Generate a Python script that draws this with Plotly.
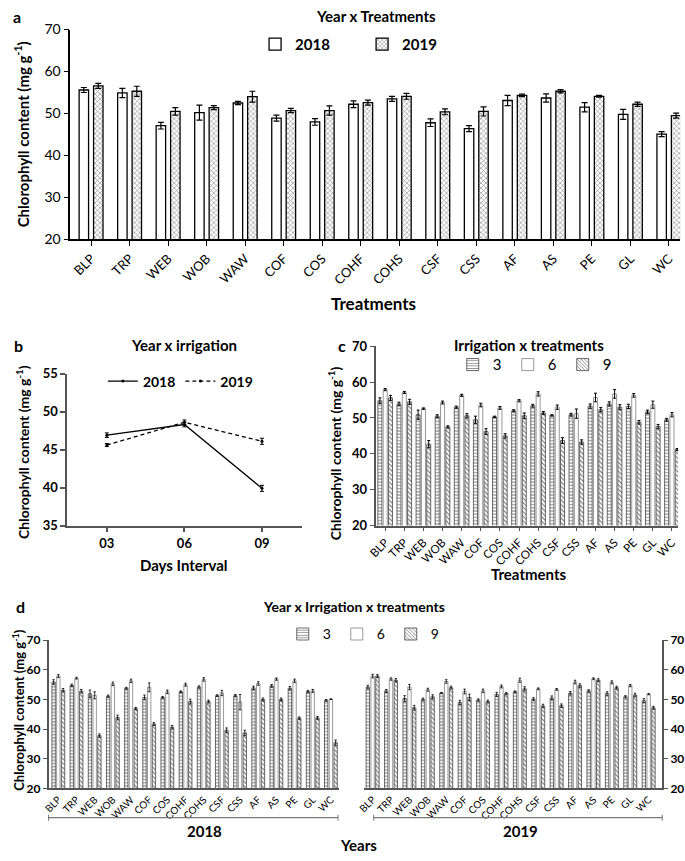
import plotly.graph_objects as go

treatments = ["BLP", "TRP", "WEB", "WOB", "WAW", "COF", "COS", "COHF", "COHS",
              "CSF", "CSS", "AF", "AS", "PE", "GL", "WC"]

# Panel a: Year x Treatments
a_2018 = [55.6, 54.9, 47.1, 50.2, 52.5, 48.9, 48.0, 52.2, 53.5, 47.8, 46.4, 53.1, 53.7, 51.5, 49.8, 45.1]
a_2018_err = [0.6, 1.1, 0.8, 1.8, 0.4, 0.7, 0.8, 0.8, 0.6, 0.9, 0.7, 1.2, 1.0, 1.1, 1.2, 0.6]
a_2019 = [56.6, 55.3, 50.5, 51.4, 54.0, 50.7, 50.7, 52.6, 54.1, 50.4, 50.5, 54.3, 55.3, 54.1, 52.2, 49.5]
a_2019_err = [0.6, 1.2, 0.9, 0.5, 1.3, 0.5, 1.1, 0.6, 0.7, 0.7, 1.1, 0.3, 0.4, 0.2, 0.5, 0.6]

# Panel b: Year x irrigation
days = ["03", "06", "09"]
b_2018 = [46.9, 48.3, 39.9]
b_2018_err = [0.3, 0.3, 0.4]
b_2019 = [45.6, 48.6, 46.1]
b_2019_err = [0.2, 0.3, 0.4]

# Panel c: Irrigation x treatments
c_3 = [54.8, 53.9, 50.9, 50.5, 53.0, 49.5, 50.3, 52.0, 53.4, 50.7, 50.9, 53.3, 53.9, 53.2, 51.7, 49.5]
c_3_err = [0.8, 0.5, 1.3, 0.4, 0.3, 1.0, 0.2, 0.3, 0.4, 0.2, 0.4, 0.6, 0.6, 0.6, 0.5, 0.4]
c_6 = [57.9, 57.1, 52.6, 54.3, 56.3, 53.6, 52.8, 54.8, 56.7, 53.0, 51.2, 55.7, 56.7, 56.3, 53.7, 50.9]
c_6_err = [0.3, 0.3, 0.2, 0.4, 0.3, 0.5, 0.4, 0.3, 0.6, 0.6, 1.3, 1.2, 1.2, 0.5, 1.0, 0.6]
c_9 = [55.6, 54.5, 42.7, 47.5, 50.6, 46.2, 45.0, 50.6, 51.4, 43.7, 43.3, 52.3, 53.0, 48.8, 47.6, 41.2]
c_9_err = [0.7, 0.7, 1.0, 0.3, 0.6, 0.8, 0.6, 0.8, 0.4, 0.8, 0.6, 0.6, 0.7, 0.5, 0.6, 0.3]

# Panel d: Year x Irrigation x treatments
d18_3 = [55.9, 54.8, 51.9, 51.1, 53.8, 50.7, 50.7, 52.6, 54.2, 51.3, 51.3, 53.9, 54.6, 53.8, 52.7, 49.7]
d18_3_err = [0.8, 0.4, 1.3, 0.4, 0.3, 0.8, 0.3, 0.3, 0.4, 0.3, 0.4, 0.6, 0.5, 0.6, 0.4, 0.3]
d18_6 = [57.9, 57.2, 51.4, 55.3, 56.3, 54.1, 52.6, 55.0, 56.8, 52.2, 49.1, 55.4, 56.9, 56.3, 52.9, 50.1]
d18_6_err = [0.5, 0.3, 1.2, 0.6, 0.6, 1.5, 0.6, 0.5, 0.6, 0.9, 2.6, 0.6, 0.4, 0.6, 0.5, 0.1]
d18_9 = [53.1, 52.8, 37.8, 43.9, 46.9, 41.7, 40.6, 49.3, 49.3, 39.6, 38.7, 50.0, 50.0, 43.7, 43.8, 35.4]
d18_9_err = [0.6, 0.6, 0.6, 0.8, 0.4, 0.5, 0.6, 0.8, 0.5, 0.8, 0.9, 0.5, 0.5, 0.4, 0.5, 0.9]
d19_3 = [54.2, 52.9, 50.3, 50.0, 52.2, 49.0, 49.8, 51.7, 52.6, 50.1, 50.5, 52.1, 52.9, 52.0, 50.9, 49.6]
d19_3_err = [0.6, 0.5, 1.0, 0.5, 0.2, 0.7, 0.4, 0.7, 0.3, 0.5, 0.7, 0.6, 0.4, 0.6, 0.4, 0.7]
d19_6 = [57.9, 56.9, 54.2, 53.3, 56.1, 52.7, 52.9, 54.4, 56.5, 53.6, 53.4, 55.9, 57.0, 55.8, 54.7, 51.8]
d19_6_err = [0.6, 0.4, 0.9, 0.5, 0.6, 0.8, 0.6, 0.5, 0.7, 0.3, 0.3, 0.6, 0.3, 0.5, 0.4, 0.2]
d19_9 = [57.9, 56.5, 47.2, 50.9, 54.0, 50.7, 49.3, 52.0, 53.6, 47.8, 47.9, 54.7, 56.5, 54.0, 51.5, 47.2]
d19_9_err = [0.5, 0.6, 0.8, 0.7, 0.5, 1.1, 0.5, 0.4, 0.7, 0.6, 0.6, 0.6, 0.5, 0.5, 0.6, 0.5]

W, H = 685, 861
FONT = "Lato"
YT = "Chlorophyll content (mg g<sup>-1</sup>)"


def px(x):
    return x / W


def py(y):
    return 1 - y / H


fig = go.Figure()

# ---------- panel a ----------
fig.add_trace(go.Bar(
    x=treatments, y=a_2018, name="2018", xaxis="x", yaxis="y",
    width=0.245, offset=-0.31,
    marker=dict(color="white", line=dict(color="black", width=1.3)),
    error_y=dict(type="data", array=a_2018_err, color="black", thickness=1.2, width=3),
    legend="legend"))
fig.add_trace(go.Bar(
    x=treatments, y=a_2019, name="2019", xaxis="x", yaxis="y",
    width=0.245, offset=0.065,
    marker=dict(color="white", line=dict(color="black", width=1.3),
                pattern=dict(shape="x", fgcolor="#222", bgcolor="white", size=3.5, solidity=0.35)),
    error_y=dict(type="data", array=a_2019_err, color="black", thickness=1.2, width=3),
    legend="legend"))

# ---------- panel b ----------
fig.add_trace(go.Scatter(
    x=days, y=b_2018, name="2018", xaxis="x2", yaxis="y2", mode="lines+markers",
    line=dict(color="black", width=1.3), marker=dict(color="black", size=3),
    error_y=dict(type="data", array=b_2018_err, color="black", thickness=1, width=2),
    legend="legend2"))
fig.add_trace(go.Scatter(
    x=days, y=b_2019, name="2019", xaxis="x2", yaxis="y2", mode="lines+markers",
    line=dict(color="black", width=1.3, dash="4px,3px"), marker=dict(color="black", size=3),
    error_y=dict(type="data", array=b_2019_err, color="black", thickness=1, width=2),
    legend="legend2"))

# bar styles for 3/6/9
styles = {
    "3": dict(color="white", line=dict(color="#444", width=0.8),
              pattern=dict(shape="-", fgcolor="black", bgcolor="white", size=3.2, solidity=0.3)),
    "6": dict(color="white", line=dict(color="#999", width=1.0)),
    "9": dict(color="white", line=dict(color="#444", width=0.8),
              pattern=dict(shape="\\", fgcolor="black", bgcolor="white", size=3.2, solidity=0.35)),
}

# ---------- panel c ----------
c_offsets = {"3": -0.385, "6": -0.105, "9": 0.17}
for key, vals, errs in [("3", c_3, c_3_err), ("6", c_6, c_6_err), ("9", c_9, c_9_err)]:
    fig.add_trace(go.Bar(
        x=treatments, y=vals, name=key, xaxis="x3", yaxis="y3",
        width=0.21, offset=c_offsets[key], marker=styles[key],
        error_y=dict(type="data", array=errs, color="black", thickness=1, width=1.5),
        legend="legend3"))

# ---------- panel d ----------
d_offsets = {"3": -0.3525, "6": -0.0925, "9": 0.1675}
for key, vals, errs in [("3", d18_3, d18_3_err), ("6", d18_6, d18_6_err), ("9", d18_9, d18_9_err)]:
    fig.add_trace(go.Bar(
        x=treatments, y=vals, name=key, xaxis="x4", yaxis="y4",
        width=0.185, offset=d_offsets[key], marker=styles[key],
        error_y=dict(type="data", array=errs, color="black", thickness=0.8, width=1.2),
        legend="legend4"))
for key, vals, errs in [("3", d19_3, d19_3_err), ("6", d19_6, d19_6_err), ("9", d19_9, d19_9_err)]:
    fig.add_trace(go.Bar(
        x=treatments, y=vals, name=key, xaxis="x5", yaxis="y5", showlegend=False,
        width=0.185, offset=d_offsets[key], marker=styles[key],
        error_y=dict(type="data", array=errs, color="black", thickness=0.8, width=1.2)))

axis_common = dict(showgrid=False, zeroline=False, ticks="outside", showline=True)

layout = dict(
    width=W, height=H, margin=dict(l=0, r=0, t=0, b=0),
    paper_bgcolor="white", plot_bgcolor="white",
    barmode="overlay",
    font=dict(family=FONT, color="black"),
    # panel a
    xaxis=dict(domain=[px(63), px(680)], anchor="y", range=[-0.54, 15.29],
               linecolor="black", linewidth=1.5, ticklen=5, tickcolor="black", tickwidth=1.3,
               tickangle=-45, tickfont=dict(size=13), **axis_common),
    yaxis=dict(domain=[py(235), py(21)], anchor="x", range=[20, 70], tickvals=[20, 30, 40, 50, 60, 70],
               linecolor="black", linewidth=1.5, ticklen=5, tickcolor="black", tickwidth=1.3,
               tickfont=dict(size=14), **axis_common),
    # panel b
    xaxis2=dict(domain=[px(60), px(297)], anchor="y2", range=[-0.51, 2.51],
                linecolor="#555", linewidth=1.8, ticklen=5, tickcolor="#555", tickwidth=1.5,
                tickfont=dict(size=13, weight="bold"), **axis_common),
    yaxis2=dict(domain=[py(527), py(372)], anchor="x2", range=[35, 55], tickvals=[35, 40, 45, 50, 55],
                linecolor="#555", linewidth=1.8, ticklen=5, tickcolor="#555", tickwidth=1.5,
                tickfont=dict(size=13, weight="bold"), **axis_common),
    # panel c
    xaxis3=dict(domain=[px(372), px(678)], anchor="y3", range=[-0.5, 15.32],
                linecolor="#555", linewidth=1.8, ticklen=4, tickcolor="#555", tickwidth=1,
                tickangle=-45, tickfont=dict(size=11.5), **axis_common),
    yaxis3=dict(domain=[py(527), py(344)], anchor="x3", range=[20, 70], tickvals=[20, 30, 40, 50, 60, 70],
                linecolor="#555", linewidth=1.8, ticklen=4, tickcolor="#555", tickwidth=1.2,
                tickfont=dict(size=13, weight="bold"), **axis_common),
    # panel d left
    xaxis4=dict(domain=[px(41), px(335)], anchor="y4", range=[-0.54, 15.45],
                linecolor="#555", linewidth=1.5, ticks="", showgrid=False, zeroline=False, showline=True,
                tickangle=-45, tickfont=dict(size=10)),
    yaxis4=dict(domain=[py(795), py(644)], anchor="x4", range=[20, 70], tickvals=[20, 30, 40, 50, 60, 70],
                linecolor="#555", linewidth=1.5, ticklen=4, tickcolor="#555", tickwidth=1,
                tickfont=dict(size=12, weight="bold"), **axis_common),
    # panel d right
    xaxis5=dict(domain=[px(360), px(662)], anchor="y5", range=[-0.48, 15.74],
                linecolor="#555", linewidth=1.5, ticks="", showgrid=False, zeroline=False, showline=True,
                tickangle=-45, tickfont=dict(size=10)),
    yaxis5=dict(domain=[py(795), py(644)], anchor="x5", side="right", range=[20, 70],
                tickvals=[20, 30, 40, 50, 60, 70],
                linecolor="#555", linewidth=1.5, ticklen=4, tickcolor="#555", tickwidth=1,
                tickfont=dict(size=12, weight="bold"), **axis_common),
    legend=dict(orientation="h", x=px(250), y=py(36), xanchor="left", yanchor="middle",
                font=dict(size=15, weight="bold"), bgcolor="rgba(0,0,0,0)", entrywidth=62,
                entrywidthmode="pixels", itemwidth=30),
    legend2=dict(orientation="h", x=px(96), y=py(380), xanchor="left", yanchor="middle",
                 font=dict(size=14, weight="bold"), bgcolor="rgba(0,0,0,0)", itemwidth=30),
    legend3=dict(orientation="h", x=px(450), y=py(363), xanchor="left", yanchor="middle",
                 font=dict(size=15), bgcolor="rgba(0,0,0,0)", entrywidth=10, entrywidthmode="pixels",
                 itemwidth=30),
    legend4=dict(orientation="h", x=px(278), y=py(638), xanchor="left", yanchor="middle",
                 font=dict(size=14), bgcolor="rgba(0,0,0,0)", entrywidth=9, entrywidthmode="pixels",
                 itemwidth=30),
)
fig.update_layout(**layout)


def ann(text, x, y, size=14, bold=True, angle=0, xanchor="center"):
    fig.add_annotation(text=f"<b>{text}</b>" if bold else text, x=px(x), y=py(y),
                       xref="paper", yref="paper", showarrow=False, xanchor=xanchor,
                       yanchor="middle", textangle=angle, font=dict(size=size, family=FONT, color="black"))


# panel a texts
ann("a", 9, 8, size=16)
ann("Year x Treatments", 372, 7, size=15)
ann("Treatments", 370, 300, size=17)
ann(YT, 14, 128, size=15, angle=-90)
# panel b texts
ann("b", 11, 343, size=16)
ann("Year x irrigation", 178, 343, size=15)
ann("Days Interval", 178, 567, size=15)
ann(YT, 14, 452, size=14, angle=-90)
# panel c texts
ann("c", 338, 343, size=16)
ann("Irrigation x treatments", 527, 343, size=15)
ann("Treatments", 527, 576, size=15)
ann(YT, 330, 453, size=14, angle=-90)
# panel d texts
ann("d", 13, 610, size=16)
ann("Year x Irrigation x treatments", 350, 610, size=14)
ann(YT, 11, 715, size=13, angle=-90)
ann("2018", 199, 839, size=15)
ann("2019", 519, 839, size=15)
ann("Years", 355, 853, size=15)

# brackets under panel d
for x0, x1 in [(41, 334), (370, 662)]:
    fig.add_shape(type="line", xref="paper", yref="paper", x0=px(x0), x1=px(x1), y0=py(825), y1=py(825),
                  line=dict(color="#777", width=1.2))
    for xx in (x0, x1):
        fig.add_shape(type="line", xref="paper", yref="paper", x0=px(xx), x1=px(xx), y0=py(822), y1=py(828),
                      line=dict(color="#777", width=1))

fig.write_html("out.html", config={"displayModeBar": False},
               post_script="document.body.style.margin='0';document.body.style.overflow='hidden';")
